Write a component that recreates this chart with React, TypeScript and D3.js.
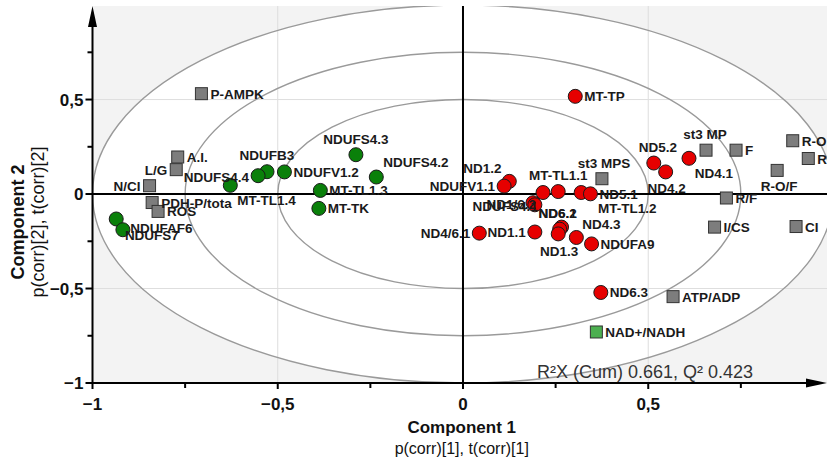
import React from "react";
import * as d3 from "d3";

const W = 827;
const H = 466;

// ---- data ----
const grayNames = ["P-AMPK", "A.I.", "L/G", "N/CI", "PDH-P/tota", "ROS", "st3 MPS", "st3 MP", "F", "R-O", "R", "R-O/F", "R/F", "I/CS", "CI", "ATP/ADP"];
const grayP1 = [-0.706, -0.770, -0.774, -0.846, -0.839, -0.823, 0.375, 0.656, 0.737, 0.890, 0.932, 0.848, 0.711, 0.679, 0.899, 0.567];
const grayP2 = [0.531, 0.196, 0.129, 0.044, -0.045, -0.092, 0.081, 0.232, 0.232, 0.282, 0.188, 0.125, -0.021, -0.175, -0.172, -0.543];

const nadNames = ["NAD+/NADH"];
const nadP1 = [0.360];
const nadP2 = [-0.730];

const greenNames = ["NDUFS4.3", "NDUFS4.2", "NDUFB3", "NDUFV1.2", "NDUFS4.4", "MT-TL1.4", "MT-TL1.3", "MT-TK", "NDUFAF6", "NDUFS7"];
const greenP1 = [-0.289, -0.234, -0.529, -0.482, -0.553, -0.628, -0.385, -0.389, -0.936, -0.918];
const greenP2 = [0.208, 0.090, 0.118, 0.117, 0.097, 0.046, 0.019, -0.076, -0.132, -0.189];

const redNames = ["MT-TP", "ND5.2", "ND4.2", "ND4.1", "ND1.2", "NDUFV1.1", "", "MT-TL1.1", "MT-TL1.2", "ND5.1", "ND1/6.2", "NDUFS4.1", "ND4/6.1", "ND1.1", "ND6.1", "ND6.2", "ND1.3", "ND4.3", "NDUFA9", "ND6.3"];
const redP1 = [0.303, 0.515, 0.547, 0.610, 0.125, 0.111, 0.216, 0.257, 0.319, 0.344, 0.189, 0.194, 0.044, 0.194, 0.266, 0.261, 0.257, 0.306, 0.347, 0.372];
const redP2 = [0.517, 0.164, 0.117, 0.189, 0.067, 0.042, 0.008, 0.013, 0.008, 0.001, -0.046, -0.057, -0.207, -0.201, -0.175, -0.186, -0.211, -0.230, -0.264, -0.521];

const majorTicks = [-1, -0.5, 0, 0.5];
const minorTicks = [-0.75, -0.25, 0.25, 0.75];
const gridValues = [-0.5, 0.5];
const ellipseRadii = [1, 0.75, 0.5];
const summaryText = "R\u00b2X (Cum) 0.661, Q\u00b2 0.423";

// ---- label placement (layout only) ----
type Place = [string, number, number];
const place: Record<string, Place> = {
  "L/G": ["end", -9, 5],
  "N/CI": ["end", -9, 5],
  "st3 MPS": ["middle", 2, -11],
  "st3 MP": ["middle", -1, -11],
  "R-O/F": ["middle", 2, 21],
  "NDUFS4.3": ["middle", 0, -11],
  "NDUFS4.2": ["start", 7, -10],
  "NDUFB3": ["middle", 0, -12],
  "NDUFS4.4": ["end", -9, 6],
  "MT-TL1.4": ["start", 7, 20],
  "NDUFAF6": ["start", 14, 14],
  "NDUFS7": ["start", 2, 10],
  "ND5.2": ["middle", 4, -11],
  "ND4.2": ["middle", 1, 21],
  "ND4.1": ["middle", 25, 20],
  "ND1.2": ["middle", -27, -8],
  "NDUFV1.1": ["end", -9, 5],
  "MT-TL1.1": ["middle", 0, -12],
  "MT-TL1.2": ["middle", 46, 20],
  "ND1/6.2": ["end", 3, 6],
  "NDUFS4.1": ["end", 3, 6],
  "ND4/6.1": ["end", -9, 5],
  "ND1.1": ["end", -9, 5],
  "ND6.1": ["middle", -4, -9],
  "ND6.2": ["middle", -2, -11],
  "ND1.3": ["middle", 1, 22],
  "ND4.3": ["start", 6, -8],
};
const defaultPlace: Place = ["start", 9, 5];

const LEFT = 92.5;
const RIGHT = 827;
const TOP = 6;
const BOTTOM = 383;

const x = d3.scaleLinear().domain([-1, 0.9825]).range([LEFT, RIGHT]);
const y = d3.scaleLinear().domain([-1, 0.995]).range([BOTTOM, TOP]);

const fmt = (v: number) => (v === 0 ? "0" : d3.format("")(v).replace(".", ","));

const FONT = "'Liberation Sans', Arial, Helvetica, sans-serif";

function Label({ name, px, py }: { name: string; px: number; py: number }) {
  if (!name) return null;
  const [anchor, dx, dy] = place[name] || defaultPlace;
  return (
    <text x={px + dx} y={py + dy} textAnchor={anchor as any} fontSize={13.5} fontWeight="bold" fill="#1a1a1a" fontFamily={FONT}>
      {name}
    </text>
  );
}

export default function App() {
  const x0 = x(0);
  const y0 = y(0);
  const grays = grayNames.map((n, i) => ({ n, px: x(grayP1[i]), py: y(grayP2[i]) }));
  const nads = nadNames.map((n, i) => ({ n, px: x(nadP1[i]), py: y(nadP2[i]) }));
  const greens = greenNames.map((n, i) => ({ n, px: x(greenP1[i]), py: y(greenP2[i]) }));
  const reds = redNames.map((n, i) => ({ n, px: x(redP1[i]), py: y(redP2[i]) }));
  const SQ = 12;
  const R = 7;

  return (
    <svg width={W} height={H} style={{ position: "absolute", left: 0, top: 0, background: "#fff" }} fontFamily={FONT}>
      <defs>
        <clipPath id="plotclip">
          <rect x={LEFT} y={TOP} width={RIGHT - LEFT} height={BOTTOM - TOP} />
        </clipPath>
      </defs>
      <g clipPath="url(#plotclip)">
        <rect x={LEFT} y={TOP} width={RIGHT - LEFT} height={BOTTOM - TOP} fill="#f3f3f3" />
        <ellipse cx={x0} cy={y0} rx={x(1) - x0} ry={y0 - y(1)} fill="#fff" />
        {gridValues.map((g) => (
          <g key={"g" + g}>
            <line x1={x(g)} x2={x(g)} y1={TOP} y2={BOTTOM} stroke="#dedede" strokeWidth={1} />
            <line x1={LEFT} x2={RIGHT} y1={y(g)} y2={y(g)} stroke="#dedede" strokeWidth={1} />
          </g>
        ))}
        {ellipseRadii.map((r) => (
          <ellipse key={"e" + r} cx={x0} cy={y0} rx={x(r) - x0} ry={y0 - y(r)} fill="none" stroke="#9a9a9a" strokeWidth={1.4} />
        ))}
        <line x1={x0} x2={x0} y1={TOP} y2={BOTTOM} stroke="#000" strokeWidth={2} />
        <line x1={LEFT} x2={RIGHT} y1={y0} y2={y0} stroke="#000" strokeWidth={2} />
        {grays.map((d, i) => (
          <rect key={"s" + i} x={d.px - SQ / 2} y={d.py - SQ / 2} width={SQ} height={SQ} fill="#7d7d7d" stroke="#333" strokeWidth={1} />
        ))}
        {nads.map((d, i) => (
          <rect key={"n" + i} x={d.px - SQ / 2} y={d.py - SQ / 2} width={SQ} height={SQ} fill="#4caf50" stroke="#333" strokeWidth={1} />
        ))}
        {greens.map((d, i) => (
          <circle key={"gc" + i} cx={d.px} cy={d.py} r={R} fill="#0a800a" stroke="#1a1a1a" strokeWidth={1} />
        ))}
        {reds.map((d, i) => (
          <circle key={"rc" + i} cx={d.px} cy={d.py} r={R} fill="#e60000" stroke="#1a1a1a" strokeWidth={1} />
        ))}
        {[...grays, ...nads, ...greens, ...reds].map((d, i) => (
          <Label key={"l" + i} name={d.n} px={d.px} py={d.py} />
        ))}
        <text x={645} y={378} textAnchor="middle" fontSize={18} fill="#333">
          {summaryText}
        </text>
      </g>

      {/* left axis */}
      <line x1={LEFT} x2={LEFT} y1={BOTTOM + 1} y2={TOP + 14} stroke="#000" strokeWidth={2} />
      <path d={`M${LEFT},${TOP} L${LEFT - 4.5},${TOP + 21} L${LEFT + 4.5},${TOP + 21} Z`} fill="#000" />
      {majorTicks.map((t) => (
        <g key={"yt" + t}>
          <line x1={LEFT - 7} x2={LEFT} y1={y(t)} y2={y(t)} stroke="#000" strokeWidth={2} />
          <text x={LEFT - 9} y={y(t) + 6} textAnchor="end" fontSize={17} fontWeight="bold" fill="#111">
            {fmt(t)}
          </text>
        </g>
      ))}
      {minorTicks.map((t) => (
        <line key={"ym" + t} x1={LEFT - 5} x2={LEFT} y1={y(t)} y2={y(t)} stroke="#000" strokeWidth={2} />
      ))}

      {/* bottom axis */}
      <line x1={LEFT - 1} x2={RIGHT - 14} y1={BOTTOM} y2={BOTTOM} stroke="#000" strokeWidth={2} />
      <path d={`M${RIGHT},${BOTTOM} L${RIGHT - 21},${BOTTOM - 4.5} L${RIGHT - 21},${BOTTOM + 4.5} Z`} fill="#000" />
      {majorTicks.map((t) => (
        <g key={"xt" + t}>
          <line x1={x(t)} x2={x(t)} y1={BOTTOM} y2={BOTTOM + 6} stroke="#000" strokeWidth={2} />
          <text x={x(t)} y={BOTTOM + 27} textAnchor="middle" fontSize={17} fontWeight="bold" fill="#111">
            {fmt(t)}
          </text>
        </g>
      ))}
      {minorTicks.map((t) => (
        <line key={"xm" + t} x1={x(t)} x2={x(t)} y1={BOTTOM} y2={BOTTOM + 5} stroke="#000" strokeWidth={2} />
      ))}

      {/* axis titles */}
      <text x={(LEFT + RIGHT) / 2 + 2} y={433} textAnchor="middle" fontSize={17} fontWeight="bold" fill="#111">
        Component 1
      </text>
      <text x={(LEFT + RIGHT) / 2 + 2} y={454} textAnchor="middle" fontSize={16} fill="#111">
        p(corr)[1], t(corr)[1]
      </text>
      <text transform={`translate(24,222) rotate(-90)`} textAnchor="middle" fontSize={18} fontWeight="bold" fill="#111">
        Component 2
      </text>
      <text transform={`translate(44,222) rotate(-90)`} textAnchor="middle" fontSize={18} fill="#111">
        p(corr)[2], t(corr)[2]
      </text>
    </svg>
  );
}
